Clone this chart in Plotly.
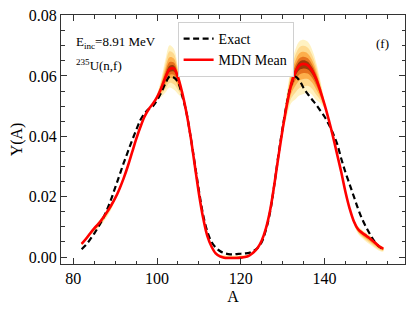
import plotly.graph_objects as go

A = list(range(82, 155))

exact = [0.0026, 0.0040, 0.0058, 0.0078, 0.0100, 0.0125, 0.0155, 0.0190, 0.0230, 0.0270,
         0.0310, 0.0348, 0.0385, 0.0420, 0.0453, 0.0475, 0.0490, 0.0500, 0.0520, 0.0545,
         0.0575, 0.0598, 0.0595, 0.0580, 0.0535, 0.0480, 0.0400, 0.0310, 0.0220, 0.0140,
         0.0085, 0.0050, 0.0032, 0.0020, 0.0013, 0.0010, 0.0009, 0.0010, 0.0011, 0.0012,
         0.0014, 0.0020, 0.0030, 0.0050, 0.0090, 0.0150, 0.0240, 0.0340, 0.0430, 0.0510,
         0.0570, 0.0598, 0.0585, 0.0560, 0.0540, 0.0522, 0.0505, 0.0485, 0.0465, 0.0440,
         0.0410, 0.0375, 0.0325, 0.0280, 0.0240, 0.0200, 0.0160, 0.0125, 0.0097, 0.0072,
         0.0050, 0.0035, 0.0026]

mdn_mean = [0.0044, 0.0060, 0.0078, 0.0095, 0.0110, 0.0128, 0.0148, 0.0170, 0.0195, 0.0225,
            0.0260, 0.0300, 0.0345, 0.0390, 0.0430, 0.0465, 0.0490, 0.0508, 0.0530, 0.0560,
            0.0595, 0.0622, 0.0625, 0.0595, 0.0545, 0.0480, 0.0400, 0.0305, 0.0210, 0.0130,
            0.0070, 0.0035, 0.0012, 0.0002, -0.0002, -0.0003, -0.0003, -0.0003, -0.0002, 0.0000,
            0.0005, 0.0015, 0.0030, 0.0055, 0.0095, 0.0155, 0.0240, 0.0335, 0.0425, 0.0505,
            0.0570, 0.0612, 0.0635, 0.0640, 0.0635, 0.0618, 0.0590, 0.0550, 0.0505, 0.0455,
            0.0400, 0.0340, 0.0280, 0.0215, 0.0160, 0.0118, 0.0092, 0.0080, 0.0070, 0.0060,
            0.0048, 0.0036, 0.0028]

# MDN sample spread (outer envelope offsets above / below the mean)
spread_hi = [0.0005, 0.0005, 0.0005, 0.0005, 0.0008, 0.0008, 0.0008, 0.0006, 0.0004, 0.0,
             0.0, 0.0, 0.0, 0.0, 0.0, 0.0, 0.0, 0.0, 0.0010, 0.0030,
             0.0060, 0.0080, 0.0065, 0.0035, 0.0010, 0.0, 0.0, 0.0, 0.0, 0.0,
             0.0, 0.0, 0.0004, 0.0006, 0.0008, 0.0008, 0.0008, 0.0008, 0.0008, 0.0006,
             0.0004, 0.0, 0.0, 0.0, 0.0, 0.0, 0.0, 0.0, 0.0020, 0.0040,
             0.0060, 0.0075, 0.0080, 0.0080, 0.0078, 0.0070, 0.0055, 0.0035, 0.0012, 0.0,
             0.0, 0.0, 0.0, 0.0, 0.0, 0.0008, 0.0010, 0.0010, 0.0010, 0.0010,
             0.0008, 0.0006, 0.0005]

spread_lo = [0.0006, 0.0006, 0.0008, 0.0010, 0.0014, 0.0016, 0.0016, 0.0014, 0.0008, 0.0,
             0.0, 0.0, 0.0, 0.0, 0.0, 0.0, 0.0, 0.0, 0.0010, 0.0030,
             0.0050, 0.0060, 0.0070, 0.0055, 0.0020, 0.0, 0.0, 0.0, 0.0, 0.0,
             0.0, 0.0, 0.0, 0.0, 0.0, 0.0, 0.0, 0.0, 0.0, 0.0,
             0.0, 0.0, 0.0, 0.0, 0.0, 0.0, 0.0, 0.0, 0.0020, 0.0040,
             0.0060, 0.0090, 0.0100, 0.0100, 0.0090, 0.0080, 0.0070, 0.0040, 0.0015, 0.0,
             0.0, 0.0, 0.0, 0.0, 0.0, 0.0010, 0.0015, 0.0018, 0.0020, 0.0020,
             0.0018, 0.0015, 0.0010]

x_ticks = [80, 100, 120, 140]
y_ticks = [0.00, 0.02, 0.04, 0.06, 0.08]

band_levels = [1.0, 0.75, 0.5, 0.3, 0.15]
band_colors = ['#fff2c2', '#fed98e', '#fdae4b', '#e6701c', '#9c3a08']

fig = go.Figure()

for lev, col in zip(band_levels, band_colors):
    upper = [m + lev * h for m, h in zip(mdn_mean, spread_hi)]
    lower = [m - lev * l for m, l in zip(mdn_mean, spread_lo)]
    fig.add_trace(go.Scatter(
        x=A + A[::-1], y=upper + lower[::-1], fill='toself', fillcolor=col,
        line=dict(width=0, shape='spline'), mode='lines', hoverinfo='skip', showlegend=False))

fig.add_trace(go.Scatter(x=A, y=exact, mode='lines', name='Exact',
                         line=dict(color='black', width=2.2, dash='6px,3.5px', shape='spline')))
fig.add_trace(go.Scatter(x=A, y=mdn_mean, mode='lines', name='MDN Mean',
                         line=dict(color='#ff0000', width=2.6, shape='spline')))

font_family = "'Liberation Serif', 'Times New Roman', serif"

# the page body adds an 8px offset, so the figure is sized to fill the rest of the window
fig.update_layout(
    width=407, height=304,
    margin=dict(l=53, r=10, t=7, b=48),
    paper_bgcolor='white', plot_bgcolor='white',
    font=dict(family=font_family, size=16, color='black'),
    legend=dict(x=0.339, y=0.972, xanchor='left', yanchor='top',
                bgcolor='rgba(255,255,255,0.9)', bordercolor='#d0d0d0', borderwidth=1,
                font=dict(size=14, family=font_family), tracegroupgap=2),
    annotations=[
        dict(text='E<sub>inc</sub>=8.91 MeV', x=0.038, y=0.89, xref='paper', yref='paper',
             xanchor='left', yanchor='middle', showarrow=False,
             font=dict(size=13, family=font_family)),
        dict(text='<sup>235</sup>U(n,f)', x=0.038, y=0.80, xref='paper', yref='paper',
             xanchor='left', yanchor='middle', showarrow=False,
             font=dict(size=13, family=font_family)),
        dict(text='(f)', x=0.935, y=0.885, xref='paper', yref='paper',
             xanchor='center', yanchor='middle', showarrow=False,
             font=dict(size=13, family=font_family)),
    ],
)

fig.update_xaxes(range=[77.07, 159.2], tickvals=x_ticks, ticks='inside', ticklen=6,
                 tickwidth=1, tickcolor='#333', showline=True, linecolor='#333', linewidth=1,
                 mirror='allticks', showgrid=False, zeroline=False, automargin=False,
                 ticklabeloverflow='allow',
                 minor=dict(ticks='inside', dtick=5, ticklen=3.5, tickcolor='#333', showgrid=False),
                 title=dict(text='A', standoff=4, font=dict(size=16, family=font_family)),
                 tickfont=dict(size=16, family=font_family))
fig.update_yaxes(range=[-0.0023, 0.0802], tickvals=y_ticks, tickformat='.2f', ticks='inside',
                 ticklen=6, tickwidth=1, tickcolor='#333', showline=True, linecolor='#333',
                 linewidth=1, mirror='allticks', showgrid=False, zeroline=False, automargin=False,
                 ticklabeloverflow='allow',
                 minor=dict(ticks='inside', dtick=0.005, ticklen=3.5, tickcolor='#333', showgrid=False),
                 title=dict(text='Y(A)', standoff=3, font=dict(size=16, family=font_family)),
                 tickfont=dict(size=16, family=font_family))

fig.write_html('out.html')
